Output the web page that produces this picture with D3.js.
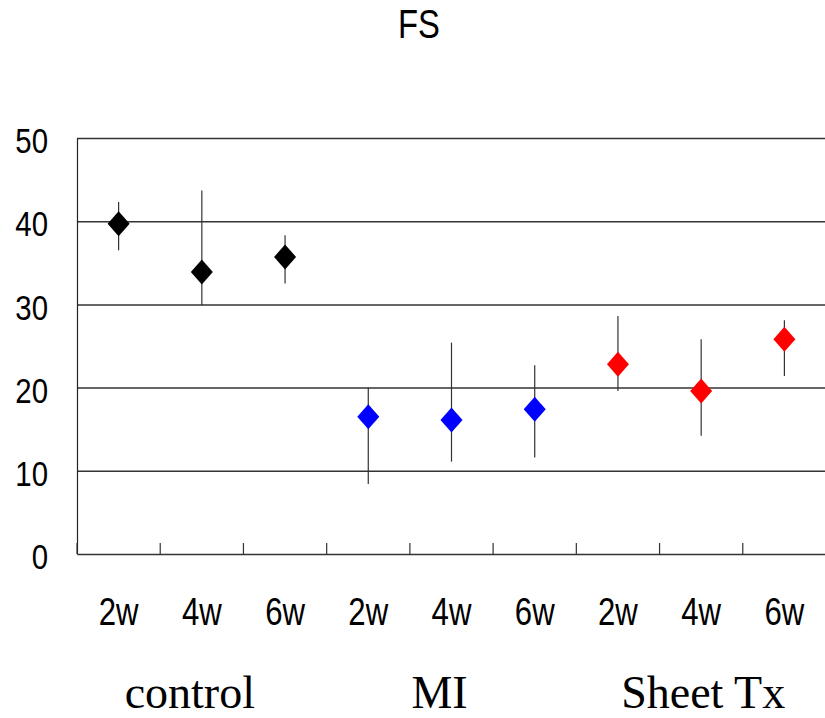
<!DOCTYPE html>
<html>
<head>
<meta charset="utf-8">
<script src="https://cdn.jsdelivr.net/npm/d3@7"></script>
<style>
  body { margin: 0; background: #fff; }
  svg { display: block; }
  .tick text { font-family: "Liberation Sans", Arial, sans-serif; fill: #000; }
</style>
</head>
<body>
<div id="chart"></div>
<script>
// data
const groups = ["control", "MI", "Sheet Tx"];
const weeks = ["2w", "4w", "6w"];
const groupColors = ["#000000", "#0000ff", "#ff0000"];
const means = [39.7, 33.9, 35.7, 16.5, 16.1, 17.4, 22.8, 19.6, 25.8];
const upper = [42.3, 43.7, 38.3, 20.0, 25.4, 22.7, 28.6, 25.8, 28.1];
const lower = [36.5, 29.9, 32.5, 8.4, 11.1, 11.6, 19.6, 14.2, 21.4];
const yTicks = [0, 10, 20, 30, 40, 50];

const points = [];
groups.forEach((g, gi) => {
  weeks.forEach((w, wi) => {
    const i = gi * weeks.length + wi;
    points.push({ key: g + "-" + w, group: g, week: w, gi: gi,
                  mean: means[i], hi: upper[i], lo: lower[i] });
  });
});

const W = 825, H = 718;
const plotLeft = 77, plotRight = 826, plotTop = 138, plotBottom = 554;
// the original uses a narrow gothic face; squeeze Liberation Sans to get close
const squeeze = 0.84;

const svg = d3.select("#chart").append("svg")
  .attr("width", W)
  .attr("height", H);

const x = d3.scaleBand()
  .domain(points.map(d => d.key))
  .range([plotLeft, plotRight])
  .padding(0);

const y = d3.scaleLinear()
  .domain([0, 50])
  .range([plotBottom, plotTop]);

// title
svg.append("g")
  .attr("transform", "translate(419,38)")
  .append("text")
  .attr("transform", "scale(0.8,1)")
  .attr("text-anchor", "middle")
  .style("font-family", '"Liberation Sans", Arial, sans-serif')
  .style("font-size", "41px")
  .text("FS");

// gridlines
svg.append("g")
  .attr("transform", `translate(${plotLeft},0)`)
  .call(d3.axisLeft(y).tickValues(yTicks.filter(v => v > 0)).tickSize(-(plotRight - plotLeft)).tickFormat(""))
  .call(g => g.select(".domain").remove())
  .selectAll("line")
  .attr("stroke", "#333")
  .attr("stroke-width", 1.5);

// y axis with labels
svg.append("g")
  .attr("transform", `translate(${plotLeft},0)`)
  .call(d3.axisLeft(y).tickValues(yTicks).tickSize(0).tickPadding(29))
  .call(g => g.select(".domain").attr("stroke", "#222").attr("stroke-width", 1.2))
  .selectAll("text")
  .style("font-size", "35px")
  .attr("x", -29 / squeeze)
  .attr("transform", `scale(${squeeze},1)`)
  .attr("dy", "0.42em");

// x axis baseline + labels
svg.append("g")
  .attr("transform", `translate(0,${plotBottom})`)
  .call(d3.axisBottom(x).tickSize(0).tickPadding(44).tickFormat(k => k.split("-").pop()))
  .call(g => g.select(".domain").attr("stroke", "#333").attr("stroke-width", 1.5))
  .selectAll("text")
  .style("font-size", "38px")
  .attr("transform", "scale(0.82,1)");

// category separators (pointing up from the baseline)
const seps = points.map(d => x(d.key)).concat([x(points[points.length - 1].key) + x.bandwidth()]);
svg.append("g").selectAll("line")
  .data(seps)
  .enter()
  .append("line")
  .attr("x1", d => d)
  .attr("x2", d => d)
  .attr("y1", plotBottom)
  .attr("y2", plotBottom - 11)
  .attr("stroke", "#333")
  .attr("stroke-width", 1.2);

// group labels
const groupNudge = [-12, -12, 2];
svg.append("g").selectAll("text")
  .data(groups)
  .enter()
  .append("text")
  .attr("x", (g, i) => x(g + "-" + weeks[1]) + x.bandwidth() / 2 + groupNudge[i])
  .attr("y", 708)
  .attr("text-anchor", "middle")
  .style("font-family", '"Liberation Serif", "Times New Roman", serif')
  .style("font-size", "46px")
  .text(g => g);

// error bars
svg.append("g").selectAll("line")
  .data(points)
  .enter()
  .append("line")
  .attr("x1", d => x(d.key) + x.bandwidth() / 2)
  .attr("x2", d => x(d.key) + x.bandwidth() / 2)
  .attr("y1", d => y(d.hi))
  .attr("y2", d => y(d.lo))
  .attr("stroke", "#333")
  .attr("stroke-width", 1.2);

// diamond markers
svg.append("g").selectAll("path")
  .data(points)
  .enter()
  .append("path")
  .attr("transform", d => `translate(${x(d.key) + x.bandwidth() / 2},${y(d.mean)})`)
  .attr("d", "M0,-12.5L11,0L0,12.5L-11,0Z")
  .attr("fill", d => groupColors[d.gi]);
</script>
</body>
</html>
